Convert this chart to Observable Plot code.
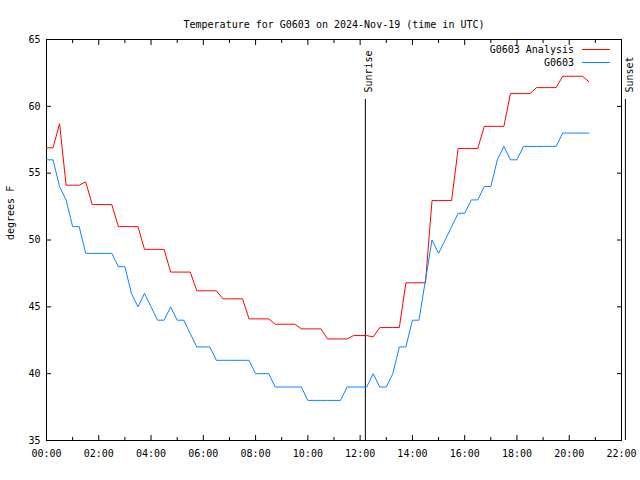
<!DOCTYPE html>
<html>
<head>
<meta charset="utf-8">
<script src="https://cdn.jsdelivr.net/npm/d3@7"></script>
<script src="https://cdn.jsdelivr.net/npm/@observablehq/plot@0.6"></script>
<style>
  html, body { margin: 0; padding: 0; background: #fff; }
  #chart svg { display: block; }
</style>
</head>
<body>
<div id="chart"></div>
<script>
const title = "Temperature for G0603 on 2024-Nov-19 (time in UTC)";
const yLabel = "degrees F";
const seriesNames = ["G0603 Analysis", "G0603"];
const seriesColors = ["#ff0000", "#0a84ff"];

// sample times, hours after 00:00 UTC (15-minute readings)
const hours = [
  0.00, 0.25, 0.50, 0.75, 1.00, 1.25, 1.50, 1.75, 2.00, 2.25, 2.50, 2.75,
  3.00, 3.25, 3.50, 3.75, 4.00, 4.25, 4.50, 4.75, 5.00, 5.25, 5.50, 5.75,
  6.00, 6.25, 6.50, 6.75, 7.00, 7.25, 7.50, 7.75, 8.00, 8.25, 8.50, 8.75,
  9.00, 9.25, 9.50, 9.75, 10.00, 10.25, 10.50, 10.75, 11.00, 11.25, 11.50, 11.75,
  12.00, 12.25, 12.50, 12.75, 13.00, 13.25, 13.50, 13.75, 14.00, 14.25, 14.50, 14.75,
  15.00, 15.25, 15.50, 15.75, 16.00, 16.25, 16.50, 16.75, 17.00, 17.25, 17.50, 17.75,
  18.00, 18.25, 18.50, 18.75, 19.00, 19.25, 19.50, 19.75, 20.00, 20.25, 20.50, 20.75
];

const analysis = [
  56.9, 56.9, 58.7, 54.1, 54.1, 54.1, 54.35, 52.65, 52.65, 52.65, 52.65, 51.0,
  51.0, 51.0, 51.0, 49.3, 49.3, 49.3, 49.3, 47.6, 47.6, 47.6, 47.6, 46.2,
  46.2, 46.2, 46.2, 45.6, 45.6, 45.6, 45.6, 44.1, 44.1, 44.1, 44.1, 43.7,
  43.7, 43.7, 43.7, 43.35, 43.35, 43.35, 43.35, 42.6, 42.6, 42.6, 42.6, 42.85,
  42.85, 42.85, 42.75, 43.45, 43.45, 43.45, 43.45, 46.8, 46.8, 46.8, 46.8, 52.95,
  52.95, 52.95, 52.95, 56.85, 56.85, 56.85, 56.85, 58.5, 58.5, 58.5, 58.5, 60.95,
  60.95, 60.95, 60.95, 61.4, 61.4, 61.4, 61.4, 62.25, 62.25, 62.25, 62.25, 61.85
];

const observed = [
  56, 56, 54, 53, 51, 51, 49, 49, 49, 49, 49, 48,
  48, 46, 45, 46, 45, 44, 44, 45, 44, 44, 43, 42,
  42, 42, 41, 41, 41, 41, 41, 41, 40, 40, 40, 39,
  39, 39, 39, 39, 38, 38, 38, 38, 38, 38, 39, 39,
  39, 39, 40, 39, 39, 40, 42, 42, 44, 44, 47, 50,
  49, 50, 51, 52, 52, 53, 53, 54, 54, 56, 57, 56,
  56, 57, 57, 57, 57, 57, 57, 58, 58, 58, 58, 58
];

const xTicks = [0, 2, 4, 6, 8, 10, 12, 14, 16, 18, 20, 22];
const xTickLabels = ["00:00", "02:00", "04:00", "06:00", "08:00", "10:00", "12:00", "14:00", "16:00", "18:00", "20:00", "22:00"];
const xMinorTicks = [1, 3, 5, 7, 9, 11, 13, 15, 17, 19, 21];
const yTicks = [35, 40, 45, 50, 55, 60, 65];

const sunEvents = ["Sunrise", "Sunset"];
const sunHours = [12.2, 22.15];

const analysisRows = hours.map((h, i) => ({hour: h, value: analysis[i]}));
const observedRows = hours.map((h, i) => ({hour: h, value: observed[i]}));

const FONT = "'DejaVu Sans Mono', 'Liberation Mono', monospace";

const chart = Plot.plot({
  width: 640,
  height: 480,
  marginLeft: 46,
  marginRight: 19,
  marginTop: 39,
  marginBottom: 40,
  style: {fontFamily: FONT, fontSize: "10px", background: "#fff", color: "#000"},
  x: {domain: [0, 22]},
  y: {domain: [35, 65]},
  marks: [
    Plot.frame({stroke: "#000"}),
    // bottom axis: labels + inward ticks
    Plot.axisX(xTicks, {anchor: "bottom", tickSize: 0, tickPadding: 9, label: null,
      tickFormat: d => xTickLabels[xTicks.indexOf(d)]}),
    Plot.axisX(xTicks, {anchor: "bottom", tickSize: -5, fill: "none", label: null}),
    Plot.axisX(xMinorTicks, {anchor: "bottom", tickSize: -3, fill: "none", label: null}),
    // top mirror ticks
    Plot.axisX(xTicks, {anchor: "top", tickSize: -5, fill: "none", label: null}),
    Plot.axisX(xMinorTicks, {anchor: "top", tickSize: -3, fill: "none", label: null}),
    // left axis
    Plot.axisY(yTicks, {anchor: "left", tickSize: 0, tickPadding: 6, label: null}),
    Plot.axisY(yTicks, {anchor: "left", tickSize: -5, fill: "none", label: null}),
    Plot.axisY(yTicks, {anchor: "right", tickSize: -5, fill: "none", label: null}),
    // sunrise / sunset markers
    Plot.ruleX(sunHours, {x: d => d, insetTop: 60, stroke: "#000"}),
    Plot.text(sunEvents, {x: (d, i) => sunHours[i], text: d => d, frameAnchor: "top",
      rotate: -90, textAnchor: "start", dy: 53, fill: "#000"}),
    // series
    Plot.line(analysisRows, {x: "hour", y: "value", stroke: seriesColors[0], strokeWidth: 1}),
    Plot.line(observedRows, {x: "hour", y: "value", stroke: seriesColors[1], strokeWidth: 1}),
    // title and y label
    Plot.text([title], {text: d => d, frameAnchor: "top", dy: -19, fill: "#000"}),
    Plot.text([yLabel], {text: d => d, frameAnchor: "left", rotate: -90, dx: -36, fill: "#000"})
  ]
});

// legend (top right, inside the frame)
const svg = d3.select(chart);
seriesNames.forEach((name, i) => {
  const y = 49.5 + i * 13;
  svg.append("text")
    .attr("x", 574).attr("y", y).attr("dy", "0.32em")
    .attr("text-anchor", "end").attr("fill", "#000")
    .text(name);
  svg.append("line")
    .attr("x1", 582).attr("x2", 610).attr("y1", y).attr("y2", y)
    .attr("stroke", seriesColors[i]).attr("stroke-width", 1);
});

document.getElementById("chart").appendChild(chart);
</script>
</body>
</html>
